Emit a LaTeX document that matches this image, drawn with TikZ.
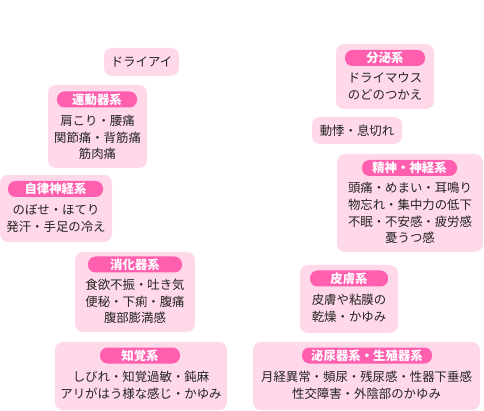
\documentclass[tikz,border=0pt]{standalone}
\usepackage{fontspec}
\setmainfont{Noto Sans CJK JP}
\usetikzlibrary{positioning}
\definecolor{panelpink}{HTML}{FFD9EA}
\definecolor{pillpink}{HTML}{FF5FAE}
\definecolor{inkgray}{HTML}{222222}

\begin{document}
\begin{tikzpicture}[
    x=1pt, y=-1pt,
    panel/.style={rectangle, rounded corners=8pt, fill=panelpink, inner sep=0pt},
    pill/.style={rectangle, rounded corners=7.5pt, fill=pillpink, text=white, inner sep=0pt,
        minimum height=16pt, font=\fontsize{12.4}{14}\selectfont\bfseries},
    body/.style={align=center, inner sep=0pt, text=inkgray, font=\fontsize{12.4}{16.8}\selectfont}
]
    \useasboundingbox (0,0) rectangle (484,411);

    % single-line boxes
    \node[panel, minimum width=75pt, minimum height=28pt] (eye) at (141.5,62) {};
    \node[body] (eyeB) at (eye.center) {ドライアイ};
    \node[panel, minimum width=90pt, minimum height=27pt] (heart) at (357,130.5) {};
    \node[body] (heartB) at (heart.center) {動悸・息切れ};

    % left column
    \node[panel, minimum width=99pt, minimum height=83pt] (motor) at (97.5,126.5) {};
    \node[pill, minimum width=80pt] (motorT) at (97,99.5) {運動器系};
    \node[body] (motorB) at (97.5,137.5) {肩こり・腰痛\\関節痛・背筋痛\\筋肉痛};

    \node[panel, minimum width=112pt, minimum height=67pt] (auto) at (56,208.5) {};
    \node[pill, minimum width=95pt] (autoT) at (55.5,189) {自律神経系};
    \node[body] (autoB) at (56,218.5) {のぼせ・ほてり\\発汗・手足の冷え};

    \node[panel, minimum width=120pt, minimum height=80pt] (digest) at (135,292) {};
    \node[pill, minimum width=94pt] (digestT) at (135,264.5) {消化器系};
    \node[body] (digestB) at (135,301.5) {食欲不振・吐き気\\便秘・下痢・腹痛\\腹部膨満感};

    \node[panel, minimum width=172pt, minimum height=68pt] (sense) at (141,376) {};
    \node[pill, minimum width=80pt] (senseT) at (140,355.5) {知覚系};
    \node[body] (senseB) at (141,385) {しびれ・知覚過敏・鈍麻\\アリがはう様な感じ・かゆみ};

    % right column
    \node[panel, minimum width=98pt, minimum height=65pt] (endo) at (385,76.5) {};
    \node[pill, minimum width=80pt] (endoT) at (385,58) {分泌系};
    \node[body] (endoB) at (385,86.5) {ドライマウス\\のどのつかえ};

    \node[panel, minimum width=146pt, minimum height=98pt] (mind) at (410,203) {};
    \node[pill, minimum width=95pt] (mindT) at (409.5,168) {精神・神経系};
    \node[body] (mindB) at (410,213) {頭痛・めまい・耳鳴り\\物忘れ・集中力の低下\\不眠・不安感・疲労感\\憂うつ感};

    \node[panel, minimum width=98pt, minimum height=68pt] (skin) at (349,299) {};
    \node[pill, minimum width=78pt] (skinT) at (349,278.5) {皮膚系};
    \node[body] (skinB) at (349,308.5) {皮膚や粘膜の\\乾燥・かゆみ};

    \node[panel, minimum width=227pt, minimum height=68pt] (uro) at (366.5,376) {};
    \node[pill, minimum width=130pt] (uroT) at (367,355.5) {泌尿器系・生殖器系};
    \node[body] (uroB) at (366.5,385) {月経異常・頻尿・残尿感・性器下垂感\\性交障害・外陰部のかゆみ};
\end{tikzpicture}
\end{document}
